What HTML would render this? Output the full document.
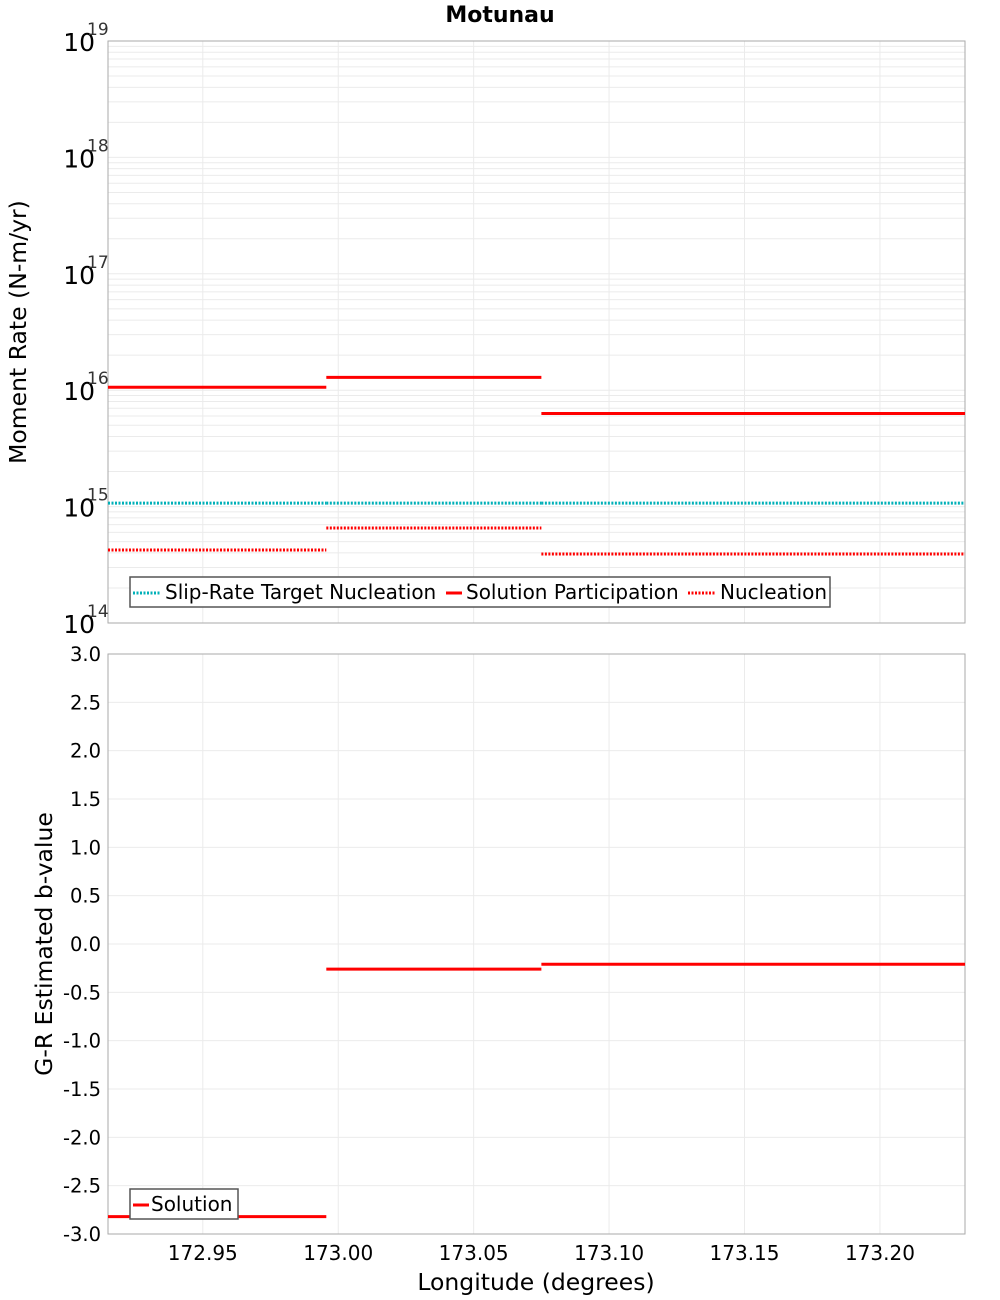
<!DOCTYPE html>
<html><head><meta charset="utf-8"><style>body{margin:0;background:#fff}svg{display:block;font-family:"DejaVu Sans","Liberation Sans",sans-serif}</style></head>
<body>
<svg id="c" width="1000" height="1300" xmlns="http://www.w3.org/2000/svg"></svg>
<script>
const xTicks=[172.95,173.00,173.05,173.10,173.15,173.20];
const binEdges=[172.915,172.9956,173.0750,173.2314];
const participation=[1.06e16,1.29e16,6.3e15];
const nucleation=[4.24e14,6.55e14,3.92e14];
const target=[1.07e15,1.07e15,1.07e15];
const bValues=[-2.82,-0.26,-0.21];
const bTicks=[3.0,2.5,2.0,1.5,1.0,0.5,0.0,-0.5,-1.0,-1.5,-2.0,-2.5,-3.0];
const logExps=[14,15,16,17,18,19];

const svg=document.getElementById('c');const NS='http://www.w3.org/2000/svg';
function mk(t,a,p){const e=document.createElementNS(NS,t);for(const k in a)e.setAttribute(k,a[k]);(p||svg).appendChild(e);return e;}
const L=108,R=965,T1=41,B1=623,T2=654,B2=1234;
const xs=v=>L+(v-binEdges[0])/(binEdges[3]-binEdges[0])*(R-L);
const ly=v=>B1-(Math.log10(v)-14)/5*(B1-T1);
const by=v=>T2+(3-v)/6*(B2-T2);

let t=mk('text',{x:500,y:22,'text-anchor':'middle','font-size':22,'font-weight':'bold'});t.textContent='Motunau';


const g1=mk('g',{});
for(let e=14;e<19;e++)for(let m=1;m<10;m++){const y=ly(m*Math.pow(10,e));mk('line',{x1:L,x2:R,y1:y,y2:y,stroke:'#ebebeb'},g1);}
const g2=mk('g',{});
bTicks.forEach(v=>{mk('line',{x1:L,x2:R,y1:by(v),y2:by(v),stroke:'#ebebeb'},g2);});
xTicks.forEach(v=>{const x=xs(v);mk('line',{x1:x,x2:x,y1:T1,y2:B1,stroke:'#ebebeb'},g1);mk('line',{x1:x,x2:x,y1:T2,y2:B2,stroke:'#ebebeb'},g2);});

let f=mk('rect',{x:L,y:T1,width:R-L,height:B1-T1,fill:'none',stroke:'#aaa'});
f=mk('rect',{x:L,y:T2,width:R-L,height:B2-T2,fill:'none',stroke:'#aaa'});

logExps.forEach(e=>{const y=ly(Math.pow(10,e));
 const tx=mk('text',{x:95,y:y+10,'text-anchor':'end','font-size':25});tx.textContent='10';
 
 const sp=mk('text',{x:87,y:y-6,'font-size':17,fill:'#333'});sp.textContent=String(e);
 });
bTicks.forEach(v=>{const tx=mk('text',{x:101,y:by(v)+7,'text-anchor':'end','font-size':19.5});tx.textContent=v.toFixed(1);
 });
xTicks.forEach(v=>{const tx=mk('text',{x:xs(v),y:1260,'text-anchor':'middle','font-size':20});tx.textContent=v.toFixed(2);
 });

t=mk('text',{x:0,y:0,'text-anchor':'middle','font-size':23.5,transform:'translate(26,332) rotate(-90)'});t.textContent='Moment Rate (N-m/yr)';

t=mk('text',{x:0,y:0,'text-anchor':'middle','font-size':23.5,transform:'translate(52,944) rotate(-90)'});t.textContent='G-R Estimated b-value';

t=mk('text',{x:536,y:1290,'text-anchor':'middle','font-size':23.5});t.textContent='Longitude (degrees)';


function seg(vals,yf,col,dash,name){const g=mk('g',{});
 vals.forEach((v,i)=>{const a={x1:xs(binEdges[i]),x2:xs(binEdges[i+1]),y1:yf(v),y2:yf(v),stroke:col,'stroke-width':3};if(dash)a['stroke-dasharray']=dash;
 const l=mk('line',a,g);});}
seg(target,ly,'#00b0b8','2 1.5','target-nucleation-series');
seg(participation,ly,'#ff0000',null,'solution-participation-series');
seg(nucleation,ly,'#ff0000','2 1.5','nucleation-series');
seg(bValues,by,'#ff0000',null,'b-value-series');

let lg=mk('g',{});
mk('rect',{x:130,y:577,width:700,height:30,fill:'#fff',stroke:'#555','stroke-width':1.5},lg);
const items=[['Slip-Rate Target Nucleation','#00b0b8','2 1.5',133,28],['Solution Participation','#ff0000',null,446,16],['Nucleation','#ff0000','2 1.5',688,28]];
items.forEach(([n,c,d,x,w])=>{const a={x1:x,x2:x+w,y1:593,y2:593,stroke:c,'stroke-width':3};if(d)a['stroke-dasharray']=d;mk('line',a,lg);
 const tx=mk('text',{x:x+w+4,y:599,'font-size':20},lg);tx.textContent=n;});
lg=mk('g',{});
mk('rect',{x:130,y:1189,width:108,height:30,fill:'#fff',stroke:'#555','stroke-width':1.5},lg);
mk('line',{x1:133,x2:149,y1:1205,y2:1205,stroke:'#ff0000','stroke-width':3},lg);
t=mk('text',{x:151,y:1211,'font-size':20},lg);t.textContent='Solution';
</script>
</body></html>
